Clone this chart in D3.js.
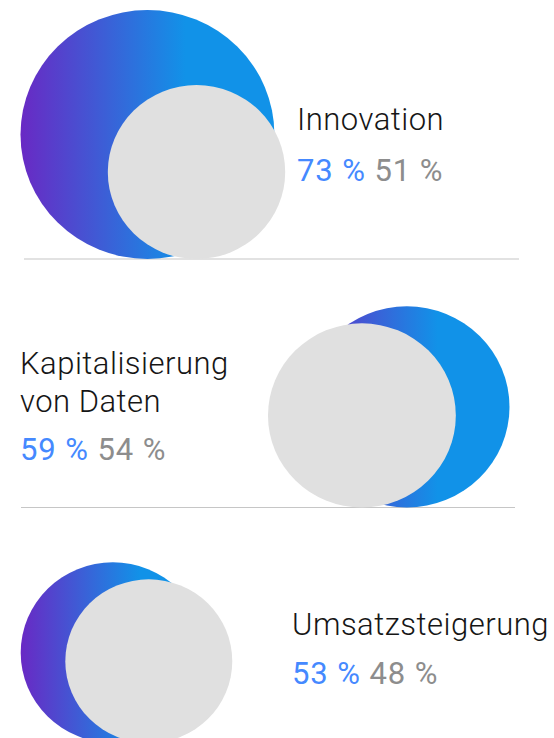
<!doctype html>
<html lang="de">
<head>
<meta charset="utf-8">
<script src="https://cdnjs.cloudflare.com/ajax/libs/d3/7.8.5/d3.min.js"></script>
<style>
  body { margin: 0; background: #fff; }
  svg { display: block; font-family: 'Roboto', 'Inter', sans-serif; }
  .label { font-weight: 300; fill: #161616; font-size: 31px; letter-spacing: 0.5px; }
  .pct { font-weight: 400; font-size: 31px; letter-spacing: 0.9px; }
</style>
</head>
<body>
<script>
// data
const labelLines = [["Innovation"], ["Kapitalisierung", "von Daten"], ["Umsatzsteigerung"]];
const valuesA = [73, 59, 53];   // blue / gradient circle
const valuesB = [51, 54, 48];   // grey circle

// layout for each row (bottom line, circle edges, text anchor)
const layout = [
  { base: 259,   aLeft: 20.5,  bLeft: 107.8, tx: 297, ty: 129.5, py: 181, line: [24, 519] },
  { base: 507.5, aRight: 509.5, bLeft: 268,  tx: 20,  ty: 373.5, py: 460, line: [21, 515] },
  { base: 743,   aLeft: 20.7,  bLeft: 65.3,  tx: 292, ty: 635,   py: 683.5, line: null }
];

const w = 554, h = 738;
const stretch = 1.02;   // circles look a bit wider than tall in the original

const r = d3.scaleLinear().domain([0, 100]).range([0, 170.5]);

const svg = d3.select("body").append("svg")
  .attr("width", w)
  .attr("height", h);

const grad = svg.append("defs").append("linearGradient")
  .attr("id", "grad")
  .attr("x1", 0).attr("x2", 1).attr("y1", 0).attr("y2", 0);
grad.append("stop").attr("offset", "0%").attr("stop-color", "#6929c4");
grad.append("stop").attr("offset", "65%").attr("stop-color", "#1192e8");
grad.append("stop").attr("offset", "100%").attr("stop-color", "#1192e8");

const rows = labelLines.map((lines, i) => ({ lines: lines, a: valuesA[i], b: valuesB[i], L: layout[i] }));

rows.forEach(d => {
  const g = svg.append("g");
  const ra = r(d.a), rb = r(d.b);
  const ax = d.L.aLeft != null ? d.L.aLeft + ra * stretch : d.L.aRight - ra * stretch;
  const bx = d.L.bLeft != null ? d.L.bLeft + rb * stretch : d.L.bRight - rb * stretch;

  if (d.L.line) {
    g.append("line")
      .attr("x1", d.L.line[0]).attr("x2", d.L.line[1])
      .attr("y1", d.L.base).attr("y2", d.L.base)
      .attr("stroke", "#c6c6c6")
      .attr("stroke-width", 1.2);
  }

  g.append("ellipse")
    .attr("cx", ax).attr("cy", d.L.base - ra)
    .attr("rx", ra * stretch).attr("ry", ra)
    .attr("fill", "url(#grad)");

  g.append("ellipse")
    .attr("cx", bx).attr("cy", d.L.base - rb)
    .attr("rx", rb * stretch).attr("ry", rb)
    .attr("fill", "#e0e0e0");

  d.lines.forEach((t, j) => {
    g.append("text")
      .attr("class", "label")
      .attr("x", d.L.tx)
      .attr("y", d.L.ty + j * 38.5)
      .text(t);
  });

  const p = g.append("text")
    .attr("class", "pct")
    .attr("x", d.L.tx)
    .attr("y", d.L.py);
  p.append("tspan").attr("fill", "#4589ff").text(d.a + " %");
  p.append("tspan").attr("fill", "#8d8d8d").text(" " + d.b + " %");
});
</script>
</body>
</html>
